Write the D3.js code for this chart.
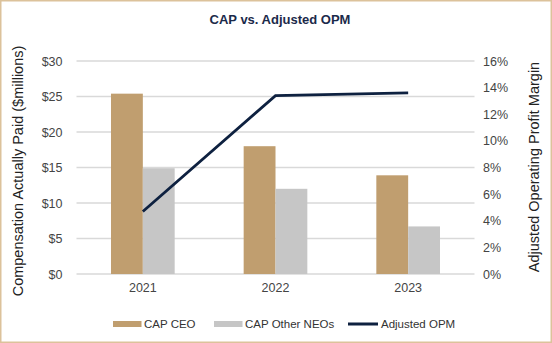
<!DOCTYPE html>
<html><head><meta charset="utf-8">
<script src="https://cdn.jsdelivr.net/npm/d3@7"></script>
<style>
html,body{margin:0;padding:0;background:#fff;}
svg{display:block;font-family:"Liberation Sans",Arial,sans-serif;}
</style></head>
<body>
<svg id="chart" width="552" height="343"></svg>
<script>
const years = ["2021", "2022", "2023"];
const capCEO = [25.4, 18.0, 13.9];
const capNEO = [14.9, 12.0, 6.7];
const adjOPM = [4.7, 13.4, 13.6];
const leftTicks = [0, 5, 10, 15, 20, 25, 30];
const rightTicks = [0, 2, 4, 6, 8, 10, 12, 14, 16];
const seriesNames = ["CAP CEO", "CAP Other NEOs", "Adjusted OPM"];
const colors = {ceo: "#c09e6f", neo: "#c6c6c6", line: "#0e2140", grid: "#d9d9d9", text: "#444", border: "#dcc29b"};

const svg = d3.select("#chart");
const W = 552, H = 343;
const m = {left: 76.5, right: 77.5, top: 61, bottom: 69};

svg.append("rect").attr("x", 0.75).attr("y", 0.75).attr("width", W - 1.5).attr("height", H - 1.5)
  .attr("fill", "#fff").attr("stroke", colors.border).attr("stroke-width", 1.5);

const x = d3.scaleBand().domain(years).range([m.left, W - m.right]);
const yL = d3.scaleLinear().domain([0, 30]).range([H - m.bottom, m.top]);
const yR = d3.scaleLinear().domain([0, 16]).range([H - m.bottom, m.top]);
const barW = x.bandwidth() * 0.24;

// gridlines
svg.append("g").selectAll("line").data(leftTicks).join("line")
  .attr("x1", m.left).attr("x2", W - m.right)
  .attr("y1", d => yL(d)).attr("y2", d => yL(d))
  .attr("stroke", colors.grid).attr("stroke-width", 1.5);

// left axis
const axL = d3.axisLeft(yL).tickValues(leftTicks).tickFormat(d => "$" + d).tickSize(0).tickPadding(14);
const gL = svg.append("g").attr("transform", `translate(${m.left},0)`).call(axL);
gL.select(".domain").remove();
gL.selectAll("text").attr("fill", colors.text).style("font-size", "12.5px");

// right axis
const axR = d3.axisRight(yR).tickValues(rightTicks).tickFormat(d => d + "%").tickSize(0).tickPadding(8.5);
const gR = svg.append("g").attr("transform", `translate(${W - m.right},0)`).call(axR);
gR.select(".domain").remove();
gR.selectAll("text").attr("fill", colors.text).style("font-size", "12.5px");

// bottom axis
const axB = d3.axisBottom(x).tickSize(0).tickPadding(9);
const gB = svg.append("g").attr("transform", `translate(0,${H - m.bottom})`).call(axB);
gB.select(".domain").remove();
gB.selectAll("text").attr("fill", colors.text).style("font-size", "12.5px");

// bars
const center = d => x(d) + x.bandwidth() / 2;
svg.append("g").selectAll("rect").data(years).join("rect")
  .attr("x", d => center(d) - barW).attr("width", barW)
  .attr("y", (d, i) => yL(capCEO[i])).attr("height", (d, i) => yL(0) - yL(capCEO[i]))
  .attr("fill", colors.ceo);
svg.append("g").selectAll("rect").data(years).join("rect")
  .attr("x", d => center(d)).attr("width", barW)
  .attr("y", (d, i) => yL(capNEO[i])).attr("height", (d, i) => yL(0) - yL(capNEO[i]))
  .attr("fill", colors.neo);

// line
const line = d3.line().x((d, i) => center(years[i])).y(d => yR(d));
svg.append("path").datum(adjOPM).attr("d", line)
  .attr("fill", "none").attr("stroke", colors.line).attr("stroke-width", 2.8);

// title
svg.append("text").attr("x", 280).attr("y", 24).attr("text-anchor", "middle")
  .attr("fill", "#1b2a4a").style("font-size", "13px").style("font-weight", "bold")
  .text("CAP vs. Adjusted OPM");

// axis titles
svg.append("text").attr("transform", `translate(23,171) rotate(-90)`)
  .attr("text-anchor", "middle").attr("fill", "#222").style("font-size", "14.5px")
  .text("Compensation Actually Paid ($millions)");
svg.append("text").attr("transform", `translate(539,167) rotate(-90)`)
  .attr("text-anchor", "middle").attr("fill", "#222").style("font-size", "14.5px")
  .text("Adjusted Operating Profit Margin");

// legend
const legY = 324;
const leg = [
  {name: seriesNames[0], x: 113, type: "bar", c: colors.ceo},
  {name: seriesNames[1], x: 214, type: "bar", c: colors.neo},
  {name: seriesNames[2], x: 348, type: "line", c: colors.line}
];
const lg = svg.append("g").selectAll("g").data(leg).join("g");
lg.append("rect").attr("x", d => d.x).attr("width", d => d.type === "bar" ? 28.5 : 30)
  .attr("y", d => d.type === "bar" ? legY - 3 : legY - 1.5)
  .attr("height", d => d.type === "bar" ? 6 : 3).attr("fill", d => d.c);
lg.append("text").attr("x", d => d.x + (d.type === "bar" ? 31 : 33)).attr("y", legY + 4)
  .attr("fill", "#333").style("font-size", "11.5px").text(d => d.name);
</script>
</body></html>
